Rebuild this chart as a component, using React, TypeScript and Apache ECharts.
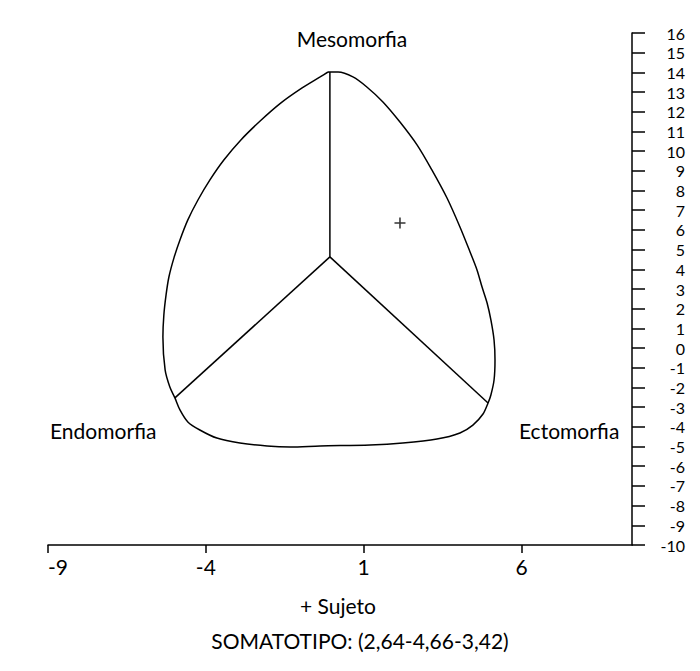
import React, { useEffect, useRef } from "react";
import * as echarts from "echarts";

// Somatochart outline (data coordinates), clockwise from the top vertex
const outlineX = [-0.13, 0.19, 0.66, 1.10, 1.61, 2.15, 2.69, 3.16, 3.64, 4.05, 4.37, 4.59, 4.75, 4.91, 5.03, 5.13, 5.16, 5.13, 5.03, 4.94, 4.78, 4.46, 4.05, 3.32, 2.24, 1.20, -0.38, -1.33, -2.06, -2.92, -3.65, -4.19, -4.57, -4.82, -4.98, -5.14, -5.29, -5.36, -5.33, -5.26, -5.17, -5.01, -4.82, -4.57, -4.25, -3.87, -3.43, -2.89, -2.28, -1.62, -0.95, -0.38, -0.13];
const outlineY = [14.02, 14.02, 13.77, 13.26, 12.50, 11.48, 10.32, 9.05, 7.62, 6.15, 4.88, 3.97, 3.10, 2.29, 1.43, 0.41, -0.60, -1.62, -2.38, -2.79, -3.35, -3.91, -4.31, -4.62, -4.82, -4.92, -4.97, -5.02, -4.97, -4.82, -4.57, -4.16, -3.75, -3.14, -2.53, -1.98, -1.11, 0.56, 1.68, 2.70, 3.61, 4.58, 5.49, 6.51, 7.52, 8.54, 9.55, 10.57, 11.53, 12.45, 13.21, 13.77, 14.02];

// Axis lines inside the chart
const centerPoint = [-0.07, 4.63];
const mesoVertex = [-0.07, 14.02];
const endoVertex = [-4.98, -2.53];
const ectoVertex = [4.94, -2.79];

// Subject point
const subjectPoint = [2.15, 6.35];

// Axis ranges
const xMin = -9;
const xMax = 9.5;
const xInterval = 5;
const yMin = -10;
const yMax = 16;
const yInterval = 1;

const cornerLabels = ["Mesomorfia", "Endomorfia", "Ectomorfia"];
const legendText = "+ Sujeto";
const somatotypeText = "SOMATOTIPO: (2,64-4,66-3,42)";

const FONT = "Lato, 'Open Sans', sans-serif";

export default function App() {
  const ref = useRef<HTMLDivElement>(null);
  useEffect(() => {
    if (!ref.current) return;
    const chart = echarts.init(ref.current, undefined, { renderer: "svg" });
    const lineStyle = { color: "#000", width: 1.5 };
    const outline = outlineX.map((x, i) => [x, outlineY[i]]);
    const seg = (a: number[], b: number[]) => ({
      type: "line",
      data: [a, b],
      symbol: "none",
      lineStyle,
      silent: true,
    });
    const txt = (s: string, x: number, y: number, align: string) => ({
      type: "text",
      x,
      y,
      style: { text: s, fill: "#000", font: `21px ${FONT}`, textAlign: align, textVerticalAlign: "middle" },
    });
    chart.setOption({
      animation: false,
      backgroundColor: "#fff",
      grid: { left: 48, right: 68, top: 33, bottom: 126, containLabel: false },
      xAxis: {
        type: "value",
        min: xMin,
        max: xMax,
        interval: xInterval,
        splitLine: { show: false },
        axisLine: { show: true, onZero: false, lineStyle: { color: "#000", width: 1.5 } },
        axisTick: { show: true, length: 8, lineStyle: { color: "#000", width: 1.5 } },
        axisLabel: {
          color: "#000",
          fontFamily: FONT,
          fontSize: 21,
          margin: 11,
          showMaxLabel: false,
          alignMinLabel: "left",
        },
      },
      yAxis: {
        type: "value",
        position: "right",
        min: yMin,
        max: yMax,
        interval: yInterval,
        splitLine: { show: false },
        axisLine: { show: true, onZero: false, lineStyle: { color: "#000", width: 1.5 } },
        axisTick: { show: true, length: 13, lineStyle: { color: "#000", width: 1.5 } },
        axisLabel: {
          color: "#000",
          fontFamily: FONT,
          fontSize: 16,
          lineHeight: 16,
          align: "right",
          margin: 53,
          showMinLabel: true,
          showMaxLabel: true,
          hideOverlap: false,
        },
      },
      series: [
        {
          type: "line",
          data: outline,
          symbol: "none",
          smooth: 0.3,
          lineStyle,
          silent: true,
        },
        seg(centerPoint, mesoVertex),
        seg(centerPoint, endoVertex),
        seg(centerPoint, ectoVertex),
        {
          type: "scatter",
          data: [subjectPoint],
          symbol: "path://M4.3,0h1.4v4.3h4.3v1.4h-4.3v4.3h-1.4v-4.3h-4.3v-1.4h4.3z",
          symbolSize: 11,
          itemStyle: { color: "#000" },
          silent: true,
        },
      ],
      graphic: [
        txt(cornerLabels[0], 352, 38, "center"),
        txt(cornerLabels[1], 50, 430, "left"),
        txt(cornerLabels[2], 519, 430, "left"),
        txt(legendText, 338, 605, "center"),
        txt(somatotypeText, 360, 640, "center"),
      ],
    });
    return () => chart.dispose();
  }, []);
  return (
    <div
      ref={ref}
      style={{ position: "fixed", left: 0, top: 0, width: 700, height: 671, background: "#fff" }}
    />
  );
}
